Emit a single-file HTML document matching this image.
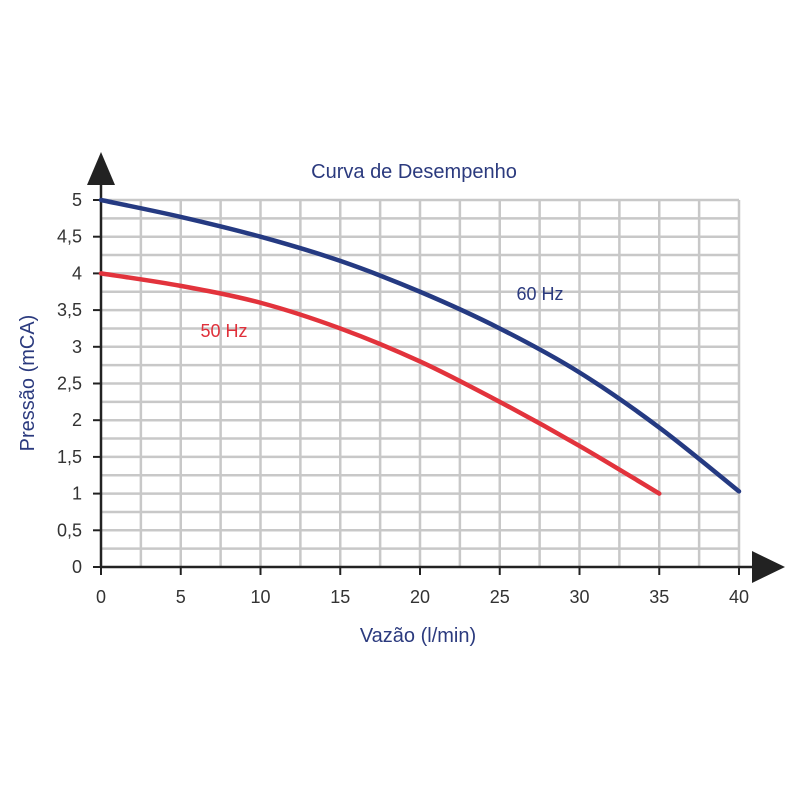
<!DOCTYPE html>
<html><head><meta charset="utf-8"><style>
html,body{margin:0;padding:0;background:#fff}
svg{display:block;font-family:"Liberation Sans",sans-serif}
</style></head><body>
<svg id="chart" width="800" height="800">
<g id="grid"></g>
<g id="axes"></g>
<g id="series"></g>
<text x="414" y="178" text-anchor="middle" font-size="20" fill="#2b3a7e">Curva de Desempenho</text>
<text x="418" y="642" text-anchor="middle" font-size="20" fill="#2b3a7e">Vazão (l/min)</text>
<text transform="translate(34,383) rotate(-90)" text-anchor="middle" font-size="20" fill="#2b3a7e">Pressão (mCA)</text>
<text x="540" y="300" text-anchor="middle" font-size="18" fill="#2b3a7e">60 Hz</text>
<text x="224" y="337" text-anchor="middle" font-size="18" fill="#e0303a">50 Hz</text>
</svg>
<script>
const xTicks=[0,5,10,15,20,25,30,35,40];
const yTicks=[0,0.5,1,1.5,2,2.5,3,3.5,4,4.5,5];
const yTickLabels=["0","0,5","1","1,5","2","2,5","3","3,5","4","4,5","5"];
const flow60=[0,5,10,15,20,25,30,35,40];
const press60=[5,4.77,4.5,4.17,3.75,3.25,2.65,1.9,1.03];
const flow50=[0,5,10,15,20,25,30,35];
const press50=[4,3.83,3.6,3.25,2.8,2.25,1.65,1.0];

const NS="http://www.w3.org/2000/svg";
const X=v=>101+v*15.95;
const Y=v=>567-v*73.4;
function mk(tag,attrs,parent){const e=document.createElementNS(NS,tag);for(const k in attrs)e.setAttribute(k,attrs[k]);parent.appendChild(e);return e;}
const grid=document.getElementById('grid'),axes=document.getElementById('axes'),series=document.getElementById('series');
for(let v=2.5;v<=40;v+=2.5){const l=mk('line',{x1:X(v),x2:X(v),y1:Y(0),y2:Y(5),stroke:'#c8c8c8','stroke-width':2.5},grid);

}
for(let v=0.25;v<=5;v+=0.25){const l=mk('line',{x1:X(0),x2:X(40),y1:Y(v),y2:Y(v),stroke:'#c8c8c8','stroke-width':2.5},grid);

}
const xa=mk('line',{x1:X(0),x2:765,y1:Y(0),y2:Y(0),stroke:'#222','stroke-width':2.5},axes);


const xh=mk('polygon',{points:'752,551 785,567 752,583',fill:'#222'},axes);


const ya=mk('line',{x1:X(0),x2:X(0),y1:Y(0),y2:180,stroke:'#222','stroke-width':2.5},axes);


const yh=mk('polygon',{points:'87,185 101,152 115,185',fill:'#222'},axes);


xTicks.forEach(v=>{const t=mk('line',{x1:X(v),x2:X(v),y1:Y(0),y2:Y(0)+8,stroke:'#222','stroke-width':2},axes);


const tx=mk('text',{x:X(v),y:603,'text-anchor':'middle','font-size':18,fill:'#333'},axes);tx.textContent=v;

});
yTicks.forEach((v,i)=>{const t=mk('line',{x1:X(0)-8,x2:X(0),y1:Y(v),y2:Y(v),stroke:'#222','stroke-width':2},axes);


const tx=mk('text',{x:82,y:Y(v)+6,'text-anchor':'end','font-size':18,fill:'#333'},axes);tx.textContent=yTickLabels[i];

});
function curve(xs,ys){let d='M'+X(xs[0])+','+Y(ys[0]);
for(let i=0;i<xs.length-1;i++){const p0=[X(xs[Math.max(i-1,0)]),Y(ys[Math.max(i-1,0)])],p1=[X(xs[i]),Y(ys[i])],p2=[X(xs[i+1]),Y(ys[i+1])],p3=[X(xs[Math.min(i+2,xs.length-1)]),Y(ys[Math.min(i+2,xs.length-1)])];
d+=` C${p1[0]+(p2[0]-p0[0])/6},${p1[1]+(p2[1]-p0[1])/6} ${p2[0]-(p3[0]-p1[0])/6},${p2[1]-(p3[1]-p1[1])/6} ${p2[0]},${p2[1]}`;}
return d;}
const s60=mk('path',{d:curve(flow60,press60),fill:'none',stroke:'#253a82','stroke-width':4.5,'stroke-linecap':'round'},series);


const s50=mk('path',{d:curve(flow50,press50),fill:'none',stroke:'#e2333c','stroke-width':4.5,'stroke-linecap':'round'},series);


</script>
</body></html>
